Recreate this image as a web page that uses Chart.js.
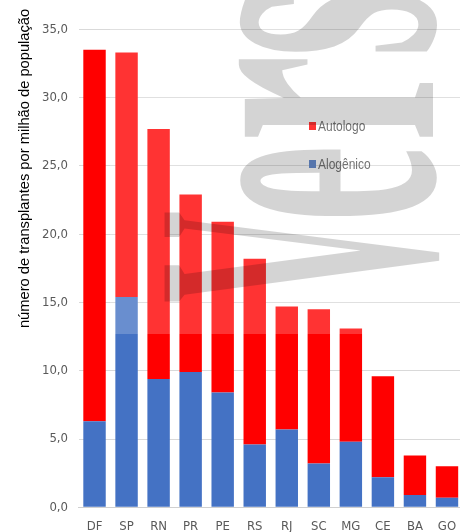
<!DOCTYPE html>
<html><head><meta charset="utf-8">
<script src="https://cdn.jsdelivr.net/npm/chart.js@4/dist/chart.umd.min.js"></script>
<style>html,body{margin:0;padding:0;overflow:hidden;background:#fff}canvas{display:block}</style>
</head><body>
<canvas id="c" width="463" height="532" style="width:463px;height:532px"></canvas>
<script>
const categories = ['DF','SP','RN','PR','PE','RS','RJ','SC','MG','CE','BA','GO'];
const alogenico = [6.3,15.4,9.4,9.9,8.4,4.6,5.7,3.2,4.8,2.2,0.9,0.7];
const autologo  = [27.2,17.9,18.3,13.0,12.5,13.6,9.0,11.3,8.3,7.4,2.9,2.3];
const yTicks = [0,5,10,15,20,25,30,35];
const seriesNames = ['Alogênico','Autologo'];
const axisTitle = 'número de transplantes por milhão de população';
const watermarkText = 'Vers';

const RED = '#ff0000', BLUE = '#4472c4';
const COND = '"DejaVu Sans Condensed","Liberation Sans",sans-serif';

const legendPlugin = {
  id: 'customLegend',
  afterDatasetsDraw(chart) {
    const ctx = chart.ctx;
    const items = [chart.data.datasets[1], chart.data.datasets[0]];
    const ys = [126, 164];
    ctx.save();
    ctx.textBaseline = 'middle';
    ctx.textAlign = 'left';
    items.forEach((ds, i) => {
      ctx.fillStyle = ds.backgroundColor;
      ctx.fillRect(309, ys[i] - 4, 7, 8);
      ctx.save();
      ctx.translate(318, ys[i] + 0.5);
      ctx.scale(0.8, 1);
      ctx.font = '15px "Liberation Sans",Arial,sans-serif';
      ctx.fillStyle = '#505050';
      ctx.fillText(ds.label, 0, 0);
      ctx.restore();
    });
    ctx.restore();
  }
};

// watermark: each letter stretched over its own span (bottom y, top y), reading upward
const wmSpans = [[303, 211], [222, 145], [142, 55], [57, -12]];
const overlayPlugin = {
  id: 'overlay',
  afterDraw(chart) {
    const ctx = chart.ctx;
    ctx.save();
    ctx.fillStyle = 'rgba(255,255,255,0.2)';
    ctx.fillRect(110, 0, 353, 334);
    ctx.font = 'bold 410px "Liberation Serif","Times New Roman",serif';
    ctx.textBaseline = 'alphabetic';
    ctx.textAlign = 'left';
    ctx.fillStyle = 'rgba(0,0,0,0.17)';
    watermarkText.split('').forEach((ch, i) => {
      const [b, t] = wmSpans[i];
      const w = ctx.measureText(ch).width;
      ctx.save();
      ctx.translate(433, b);
      ctx.rotate(-Math.PI / 2);
      ctx.scale((b - t) / w, 1);
      ctx.fillText(ch, 0, 0);
      ctx.restore();
    });
    ctx.restore();
  }
};

new Chart(document.getElementById('c'), {
  type: 'bar',
  data: {
    labels: categories,
    datasets: [
      { label: seriesNames[0], data: alogenico, backgroundColor: BLUE, barPercentage: 0.7, categoryPercentage: 1.0 },
      { label: seriesNames[1], data: autologo, backgroundColor: RED, barPercentage: 0.7, categoryPercentage: 1.0 }
    ]
  },
  options: {
    responsive: false,
    animation: false,
    devicePixelRatio: 1,
    layout: { padding: { top: 8.8, left: 0, right: 0, bottom: 0 } },
    plugins: { legend: { display: false }, tooltip: { enabled: false } },
    scales: {
      x: {
        stacked: true,
        grid: { display: false, drawTicks: false },
        border: { display: true, color: '#d0d0d0' },
        ticks: { color: '#595959', font: { family: COND, size: 13 }, padding: 12, maxRotation: 0 },
        afterFit(s) { s.height = 24.7; s.paddingLeft = 0; s.paddingRight = 0; }
      },
      y: {
        stacked: true,
        min: 0, max: 36.5,
        afterBuildTicks(s) { s.ticks = yTicks.map(v => ({ value: v })); },
        grid: { color: '#d9d9d9', drawTicks: false },
        border: { display: false },
        ticks: {
          color: '#595959', font: { family: COND, size: 13 }, padding: 10.5,
          callback: v => v.toFixed(1).replace('.', ',')
        },
        title: {
          display: true, text: axisTitle, align: 'end', color: '#000',
          font: { family: '"Liberation Sans",Arial,sans-serif', size: 14.7 },
          padding: { top: 16.2, bottom: 0 }
        },
        afterFit(s) { s.width = 78.5; s.paddingTop = 0; s.paddingBottom = 0; }
      }
    }
  },
  plugins: [legendPlugin, overlayPlugin]
});
</script>
</body></html>
